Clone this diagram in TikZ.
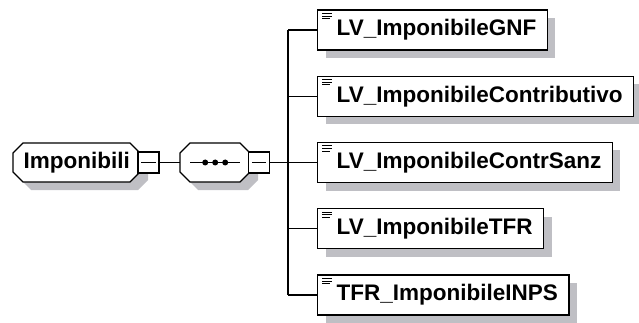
\documentclass[tikz,border=0pt]{standalone}
\usepackage{fontspec}
\setmainfont{Liberation Sans}
\definecolor{grigioombra}{rgb}{0.75,0.75,0.77}

\tikzset{
	bordo/.style={line width=1.4pt, draw=black, fill=white},
	ombra/.style={fill=grigioombra, draw=none},
	gruppo/.style={rectangle, minimum height=39pt, inner sep=0pt, anchor=west, font=\bfseries\fontsize{22.5}{26}\selectfont},
	elemento/.style={bordo, minimum height=40pt, inner xsep=11pt, inner ysep=0pt, anchor=west, font=\bfseries\fontsize{22.5}{26}\selectfont},
	meno/.style={bordo, minimum size=21pt, inner sep=0pt},
	linea/.style={line width=1.3pt}
}

% ottagono: lato sinistro in (#2,#3), larghezza #4
\newcommand\ottagono[4][]{\path[#1] ({#2+10},{#3-19.5}) -- ({#2+#4-10},{#3-19.5}) -- ({#2+#4},{#3-9.5}) -- ({#2+#4},{#3+9.5}) -- ({#2+#4-10},{#3+19.5}) -- ({#2+10},{#3+19.5}) -- ({#2},{#3+9.5}) -- ({#2},{#3-9.5}) -- cycle;}

\begin{document}
\begin{tikzpicture}[x=1pt,y=-1pt]
	%%%%% START %%%%%
	\useasboundingbox (0,0) rectangle (639,323);

	% ombre
	\ottagono[ombra]{21}{170.5}{127}
	\ottagono[ombra]{188}{170.5}{70}
	\node[elemento, ombra] at (325,38) {\phantom{\hspace{8pt}LV\_ImponibileGNF}};
	\node[elemento, ombra] at (325,104.25) {\phantom{\hspace{8pt}LV\_ImponibileContributivo}};
	\node[elemento, ombra] at (325,170.5) {\phantom{\hspace{8pt}LV\_ImponibileContrSanz}};
	\node[elemento, ombra] at (325,236.75) {\phantom{\hspace{8pt}LV\_ImponibileTFR}};
	\node[elemento, ombra] at (325,303) {\phantom{\hspace{8pt}TFR\_ImponibileINPS}};

	% radice
	\ottagono[bordo]{13}{162.5}{127}
	\node[gruppo, minimum width=127pt] (imponibili) at (13,162.5) {Imponibili};
	\node[meno] (impmeno) at (148.5,162.5) {};

	% sequenza
	\ottagono[bordo]{180}{162.5}{70}
	\node[gruppo, minimum width=70pt] (sequenza) at (180,162.5) {};
	\node[meno] (seqmeno) at (259,162.5) {};
	\draw[linea] ([xshift=-25pt]sequenza.center) -- ([xshift=25pt]sequenza.center);
	\fill ([xshift=-10pt]sequenza.center) circle (3pt);
	\fill (sequenza.center) circle (3pt);
	\fill ([xshift=10pt]sequenza.center) circle (3pt);

	% segni meno
	\draw[line width=1.2pt] ([xshift=4pt]impmeno.west) -- ([xshift=-4pt]impmeno.east);
	\draw[line width=1.2pt] ([xshift=4pt]seqmeno.west) -- ([xshift=-4pt]seqmeno.east);

	\coordinate (bivio) at (288,162.5);

	% elementi
	\node[elemento] (gnf) at (317,30) {\hspace{8pt}LV\_ImponibileGNF};
	\node[elemento] (contributivo) at (317,96.25) {\hspace{8pt}LV\_ImponibileContributivo};
	\node[elemento] (contrsanz) at (317,162.5) {\hspace{8pt}LV\_ImponibileContrSanz};
	\node[elemento] (tfr) at (317,228.75) {\hspace{8pt}LV\_ImponibileTFR};
	\node[elemento] (inps) at (317,295) {\hspace{8pt}TFR\_ImponibileINPS};

	% icone degli elementi
	\foreach \n in {gnf,contributivo,contrsanz,tfr,inps} {
		\draw[line width=0.9pt] ([shift={(5pt,-4pt)}]\n.north west) -- ++(10pt,0pt);
		\draw[line width=0.9pt] ([shift={(5pt,-6.7pt)}]\n.north west) -- ++(10pt,0pt);
		\draw[line width=0.9pt] ([shift={(5pt,-9.4pt)}]\n.north west) -- ++(8pt,0pt);
	}

	% collegamenti
	\draw[linea] (impmeno) -- (sequenza);
	\draw[linea] (seqmeno) -- (bivio);
	\draw[linea] (bivio |- gnf.west) -- (bivio |- inps.west);
	\draw[linea] (bivio |- gnf.west) -- (gnf);
	\draw[linea] (bivio |- contributivo.west) -- (contributivo);
	\draw[linea] (bivio) -- (contrsanz);
	\draw[linea] (bivio |- tfr.west) -- (tfr);
	\draw[linea] (bivio |- inps.west) -- (inps);

	%%%%% END %%%%%
\end{tikzpicture}
\end{document}
